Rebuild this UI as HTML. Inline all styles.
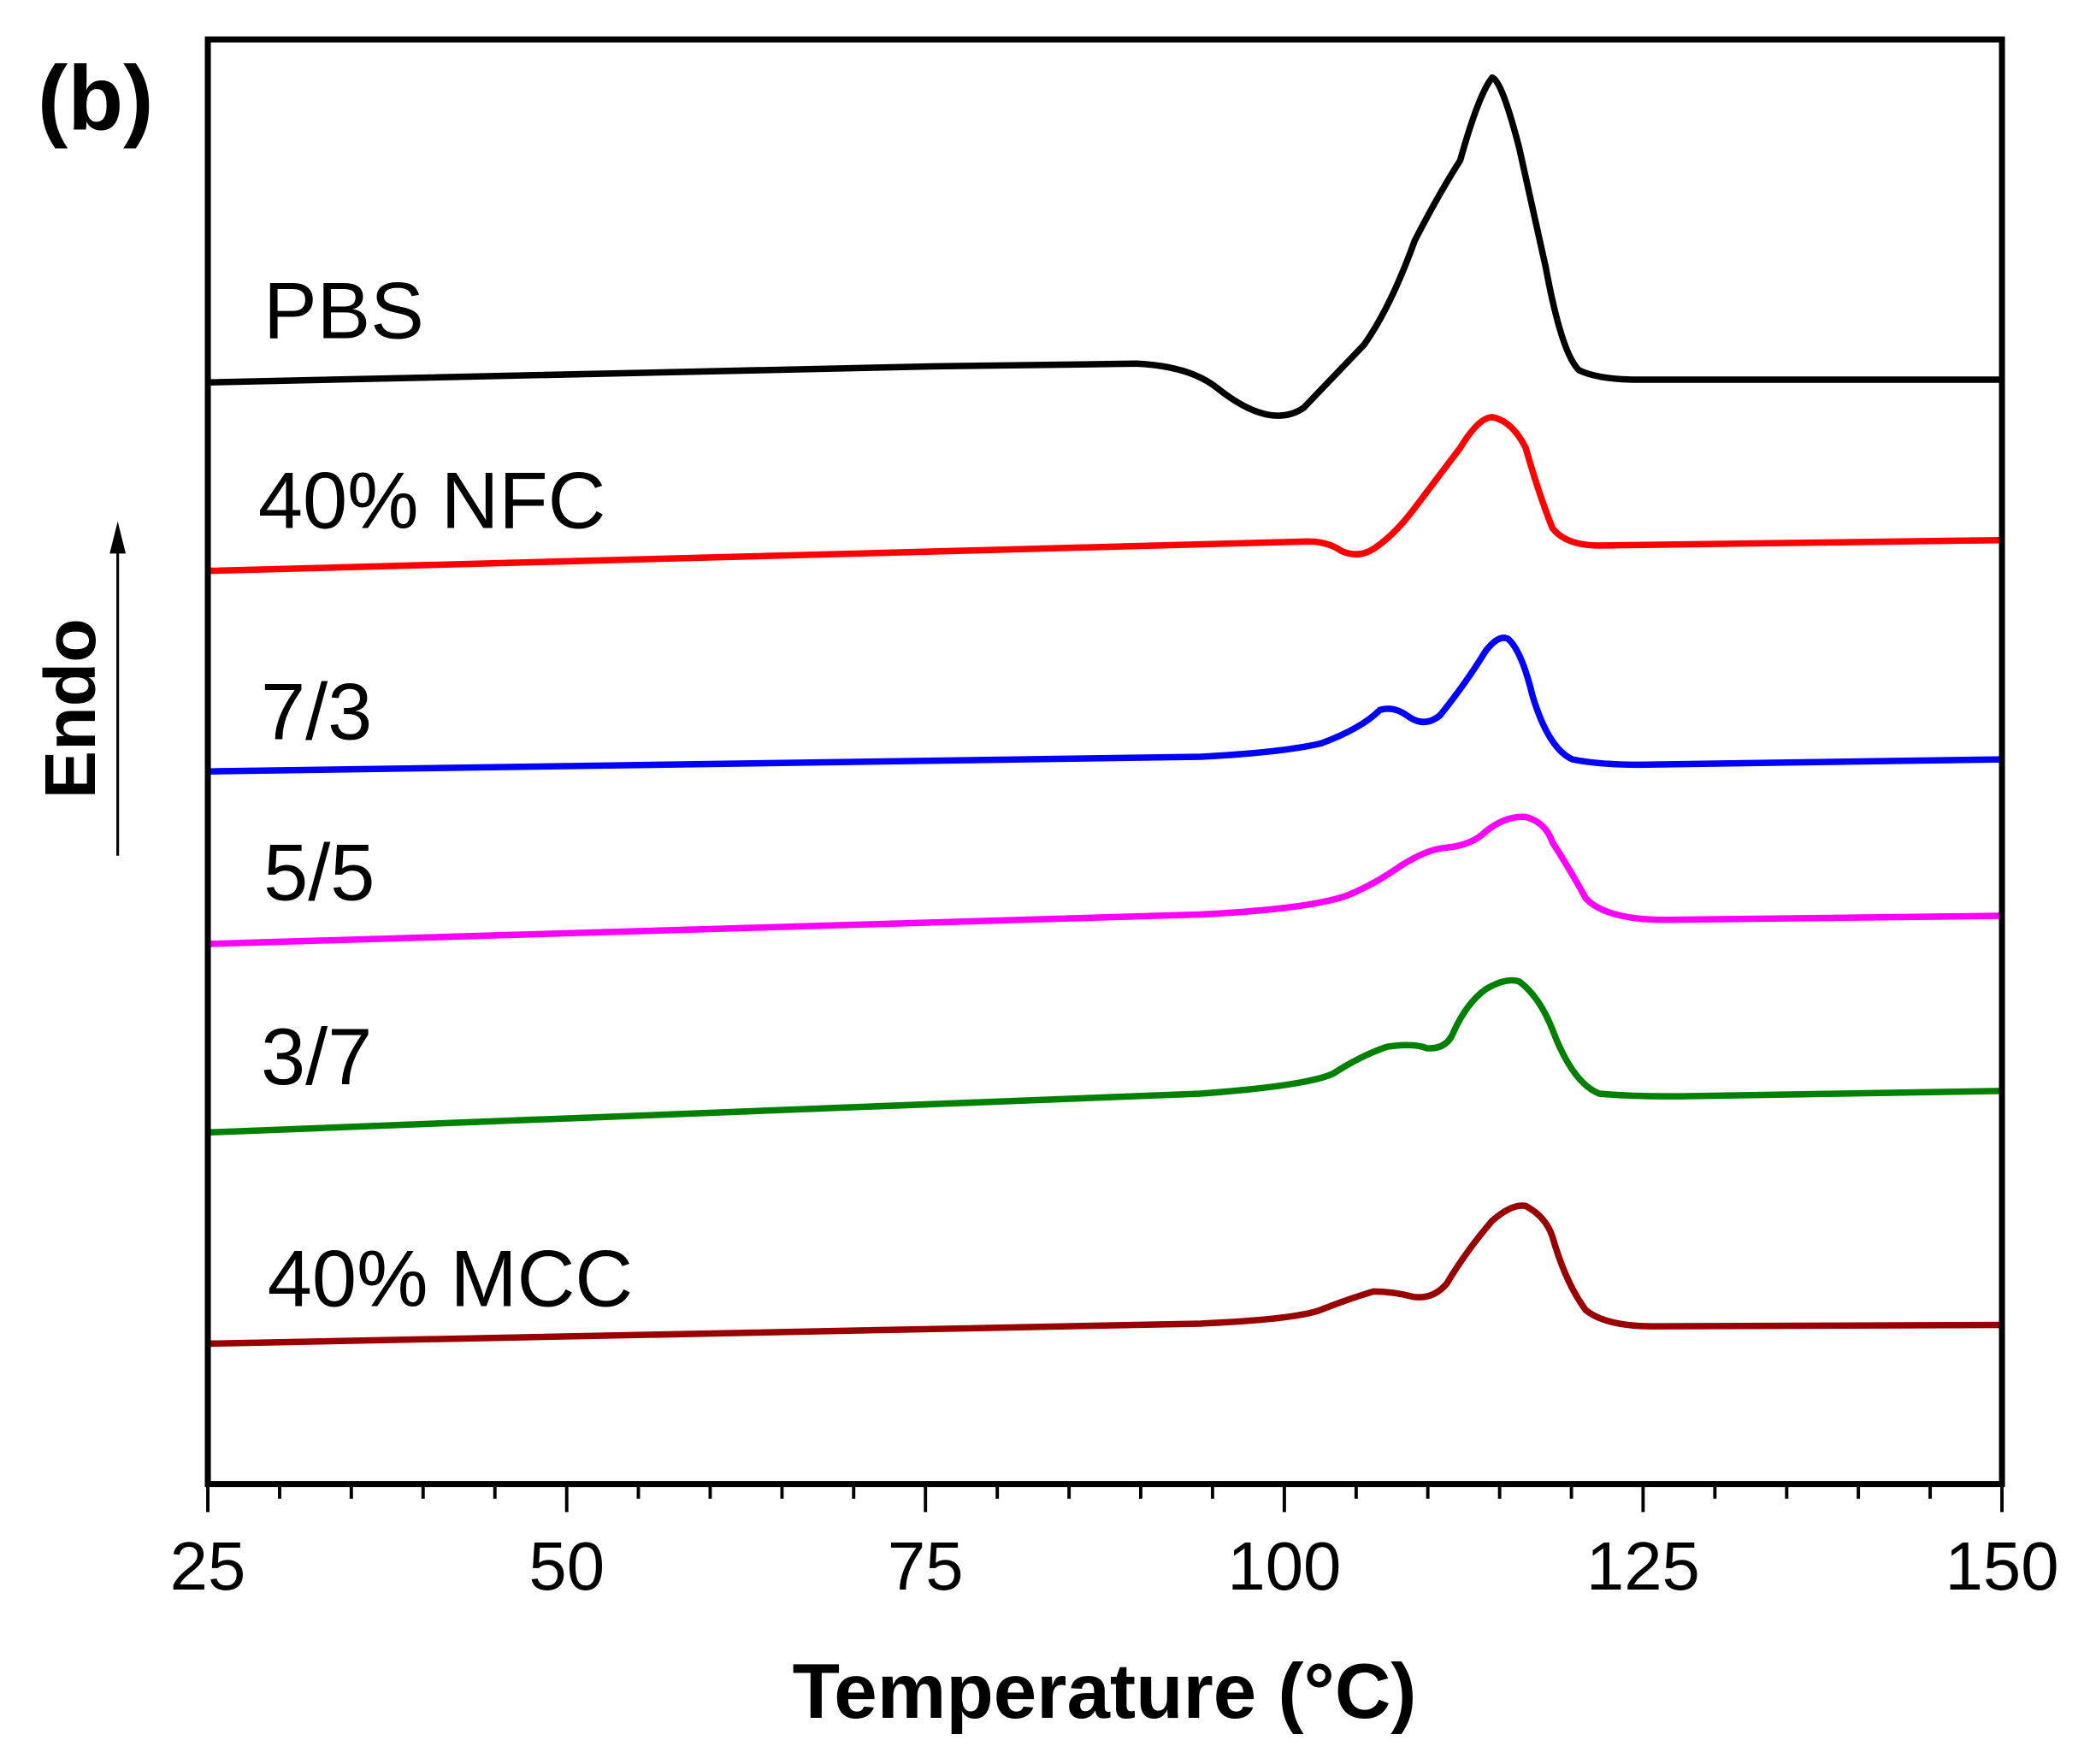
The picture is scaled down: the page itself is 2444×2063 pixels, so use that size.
<!DOCTYPE html>
<html><head><meta charset="utf-8"><style>html,body{margin:0;padding:0;background:#fff}svg{display:block}</style></head>
<body>
<svg width="2444" height="2063" viewBox="0 0 1563 1319.4" xmlns="http://www.w3.org/2000/svg" font-family="'Liberation Sans', Arial, sans-serif">
<rect width="1563" height="1320" fill="#fff"/>
<g fill="none" stroke-width="4.8" stroke-linejoin="round" stroke-linecap="round">
<path stroke="#000" d="M156 286 L700 274 L850 272 Q890 274 910 290 Q950 322 975 305 L1020 258 Q1040 230 1058 180 Q1076 145 1092 120 Q1106 70 1116 58 Q1123 60 1136 110 L1156 200 Q1168 265 1181 277 Q1196 284 1226 284 L1496 284"/>
<path stroke="#ff0000" d="M156 427 L978 405 Q993 405 1003 412 Q1016 418 1028 410 Q1043 400 1058 380 L1092 335 Q1106 312 1116 312 Q1131 315 1141 335 Q1151 370 1161 395 Q1171 408 1196 408 L1496 404"/>
<path stroke="#0000ff" d="M156 577 L898 566 Q958 563 988 556 Q1018 545 1032 531 Q1042 528 1052 535 Q1065 545 1077 535 Q1097 510 1111 487 Q1121 474 1128 478 Q1138 487 1146 520 Q1158 560 1176 568 Q1196 572 1226 572 L1496 568"/>
<path stroke="#ff00ff" d="M156 706 L898 684 Q978 680 1007 670 Q1027 662 1047 648 Q1067 635 1082 634 Q1101 632 1111 622 Q1126 610 1141 611 Q1156 615 1161 630 Q1174 650 1186 672 Q1201 688 1246 688 L1496 685"/>
<path stroke="#008000" d="M156 847 L898 818 Q978 812 997 803 Q1017 790 1037 783 Q1057 780 1067 784 Q1082 785 1087 772 Q1097 750 1111 740 Q1126 731 1136 734 Q1151 745 1161 770 Q1176 810 1196 818 Q1216 820 1256 820 L1496 816"/>
<path stroke="#990000" d="M156 1005 L898 990 Q967 987 987 980 Q1007 972 1027 966 Q1042 966 1057 970 Q1072 972 1082 960 Q1097 935 1116 913 Q1131 900 1141 902 Q1156 910 1161 925 Q1171 960 1186 980 Q1201 992 1236 992 L1496 991"/>
</g>
<rect x="155.4" y="29.5" width="1341.8" height="1080.5" fill="none" stroke="#000" stroke-width="4.5"/>
<g stroke="#000" stroke-width="2.5">
<path d="M155.4 1110 v21 M423.8 1110 v21 M692.1 1110 v21 M960.5 1110 v21 M1228.8 1110 v21 M1497.2 1110 v21"/>
<path d="M209.1 1110 v11 M262.7 1110 v11 M316.4 1110 v11 M370.1 1110 v11 M477.4 1110 v11 M531.1 1110 v11 M584.8 1110 v11 M638.4 1110 v11 M745.8 1110 v11 M799.5 1110 v11 M853.1 1110 v11 M906.8 1110 v11 M1014.2 1110 v11 M1067.8 1110 v11 M1121.5 1110 v11 M1175.2 1110 v11 M1282.5 1110 v11 M1336.2 1110 v11 M1389.8 1110 v11 M1443.5 1110 v11"/>
</g>
<g font-size="51" text-anchor="middle" fill="#000">
<text x="155.4" y="1189">25</text><text x="423.8" y="1189">50</text><text x="692.1" y="1189">75</text><text x="960.5" y="1189">100</text><text x="1228.8" y="1189">125</text><text x="1497.2" y="1189">150</text>
</g>
<text x="826" y="1285" font-size="58" font-weight="bold" text-anchor="middle">Temperature (°C)</text>
<text x="28" y="97" font-size="68" font-weight="bold">(b)</text>
<g font-size="60" fill="#000">
<text x="197" y="253">PBS</text>
<text x="193" y="395">40% NFC</text>
<text x="195" y="553">7/3</text>
<text x="197" y="673">5/5</text>
<text x="195" y="811">3/7</text>
<text x="200" y="977">40% MCC</text>
</g>
<text transform="translate(71 530) rotate(-90)" font-size="54" font-weight="bold" text-anchor="middle">Endo</text>
<line x1="88" y1="640" x2="88" y2="410" stroke="#000" stroke-width="2"/>
<path d="M88 390 L82 414 L94 414 Z" fill="#000"/>
</svg>
</body></html>
